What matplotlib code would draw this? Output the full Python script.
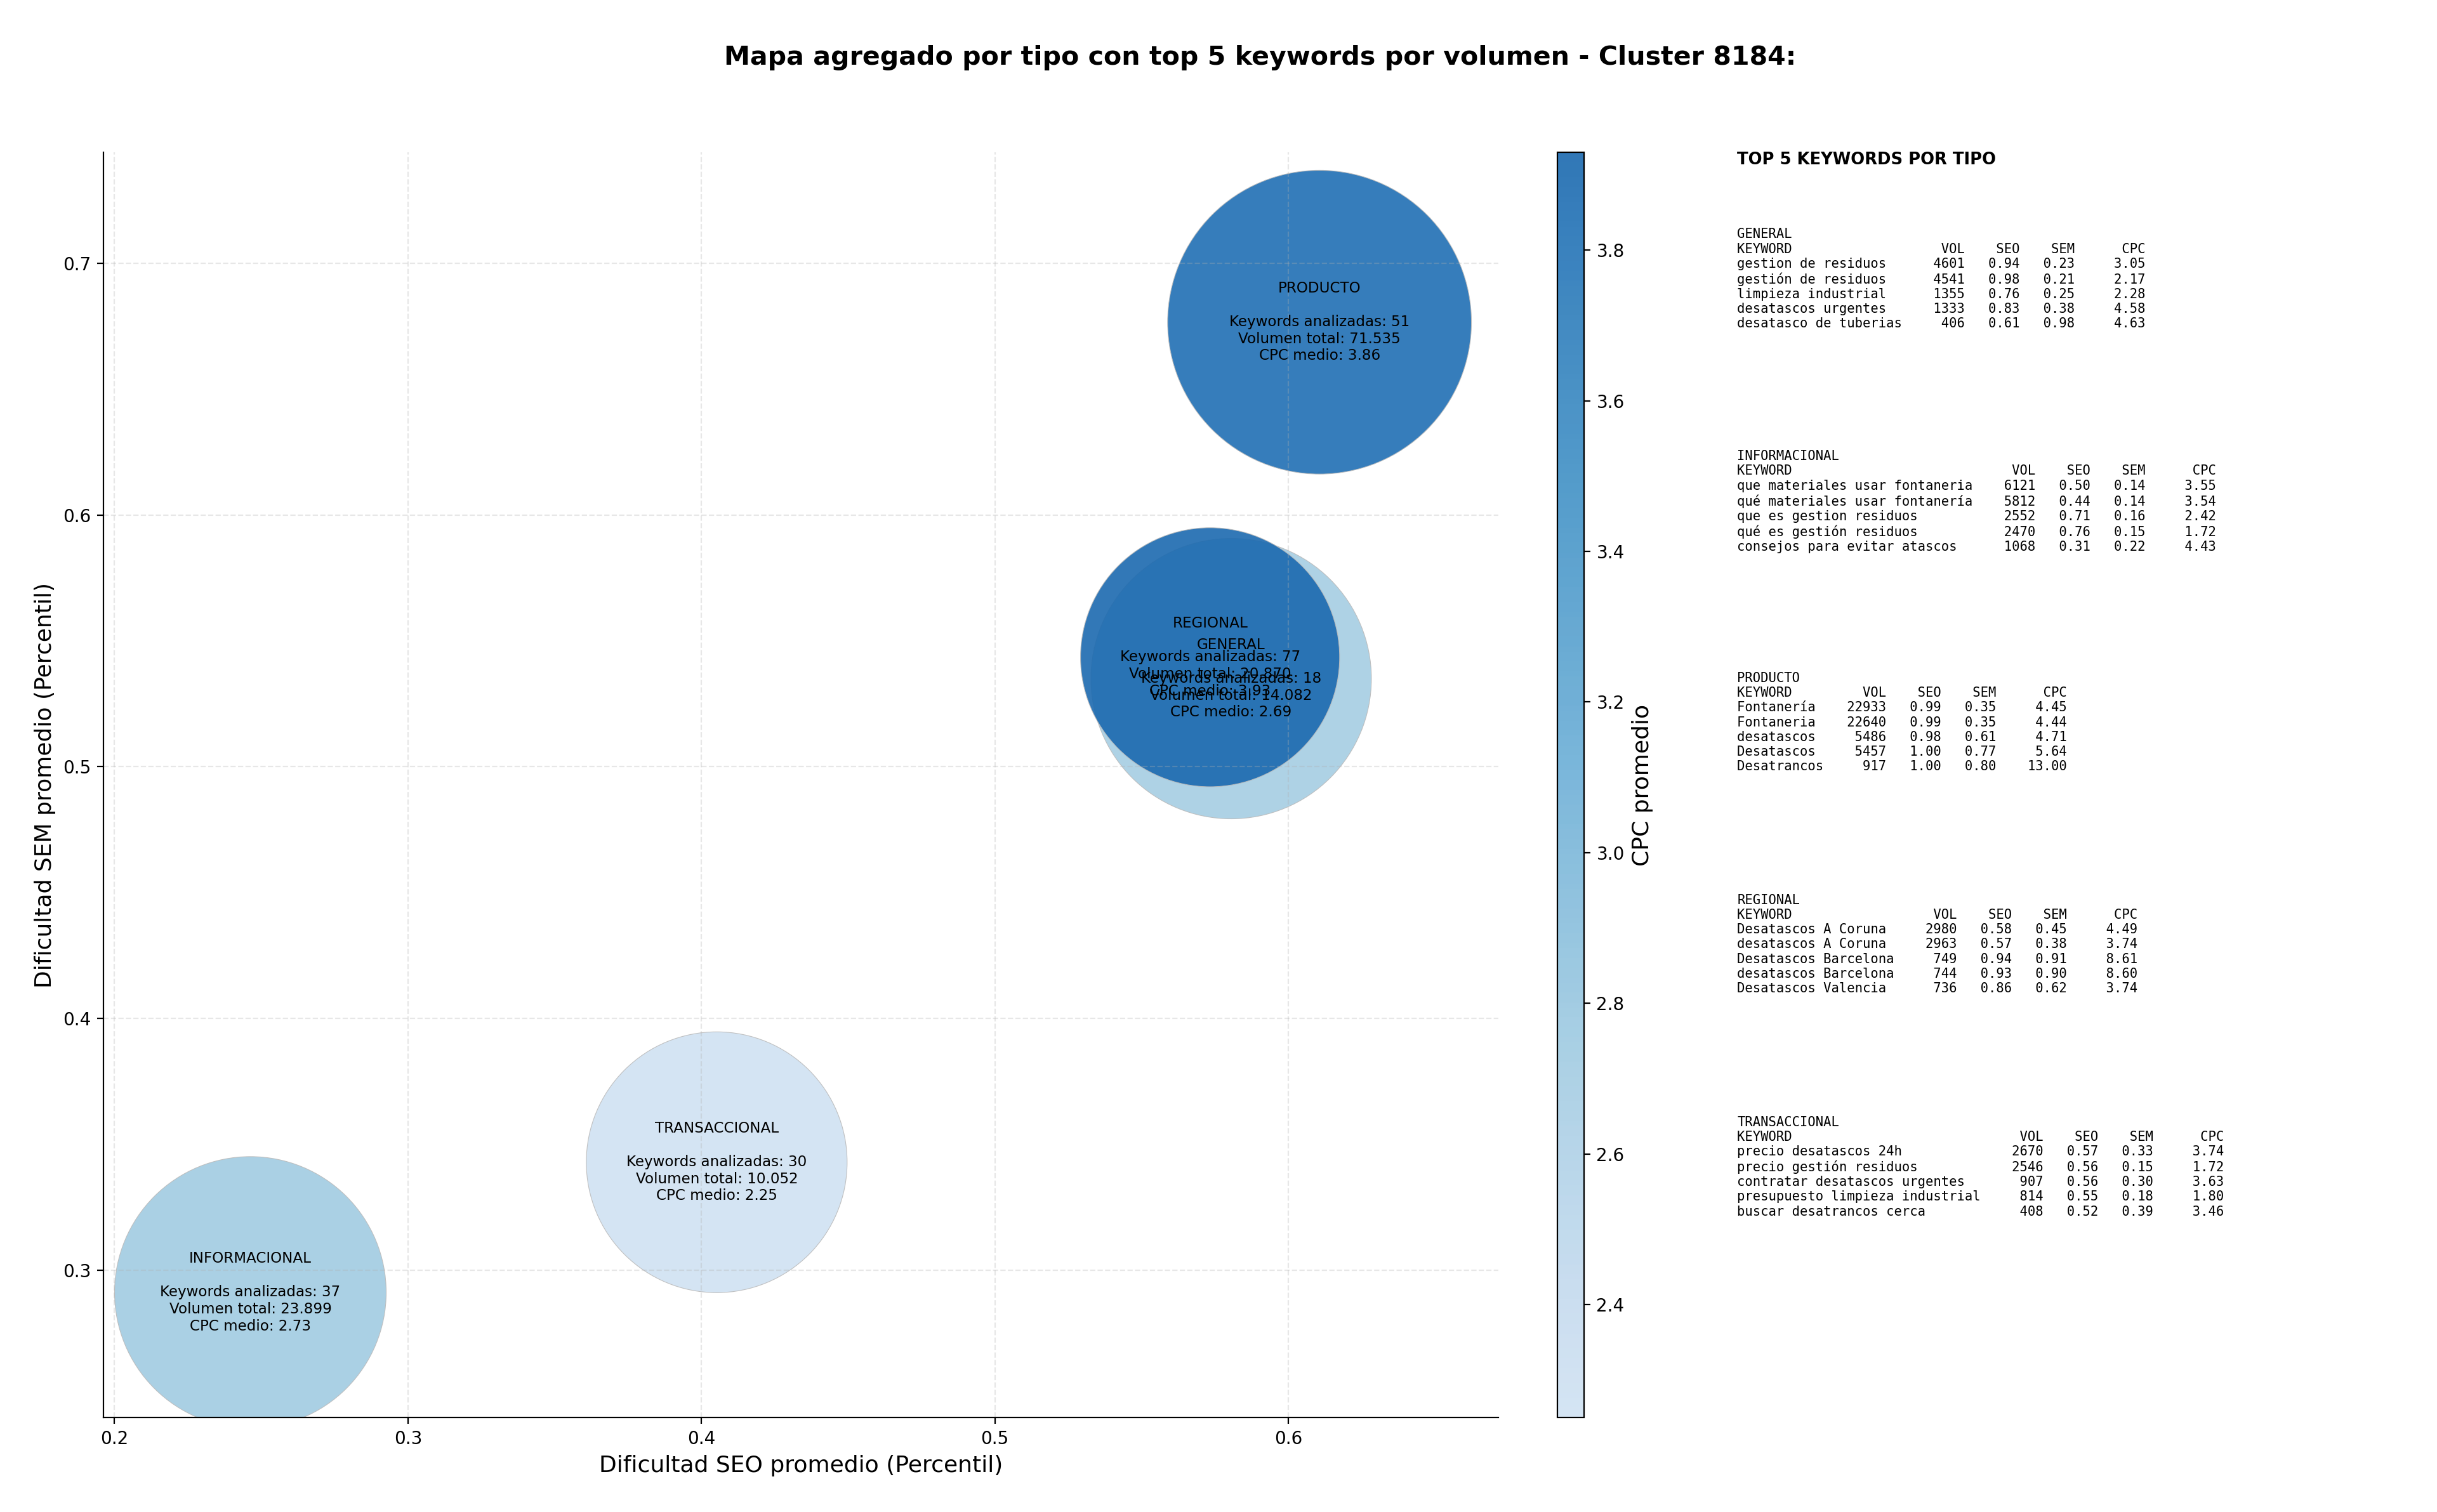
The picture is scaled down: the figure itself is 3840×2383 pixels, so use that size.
import numpy as np
import matplotlib
matplotlib.use('Agg')
import matplotlib.pyplot as plt
from matplotlib.colors import LinearSegmentedColormap, Normalize

# aggregated data per keyword type
tipos = ['GENERAL', 'INFORMACIONAL', 'PRODUCTO', 'REGIONAL', 'TRANSACCIONAL']
seo_medio = [0.5805, 0.2463, 0.6106, 0.5733, 0.4052]
sem_medio = [0.5350, 0.2912, 0.6766, 0.5435, 0.3429]
n_keywords = [18, 37, 51, 77, 30]
volumen_total = [14082, 23899, 71535, 20870, 10052]
cpc_medio = [2.69, 2.73, 3.86, 3.93, 2.25]
bubble_size = [25300, 23740, 29700, 21600, 21890]

# top 5 keywords per type: (keyword, vol, seo, sem, cpc)
top_general = [
    ('gestion de residuos', 4601, 0.94, 0.23, 3.05),
    ('gestión de residuos', 4541, 0.98, 0.21, 2.17),
    ('limpieza industrial', 1355, 0.76, 0.25, 2.28),
    ('desatascos urgentes', 1333, 0.83, 0.38, 4.58),
    ('desatasco de tuberias', 406, 0.61, 0.98, 4.63),
]
top_informacional = [
    ('que materiales usar fontaneria', 6121, 0.50, 0.14, 3.55),
    ('qué materiales usar fontanería', 5812, 0.44, 0.14, 3.54),
    ('que es gestion residuos', 2552, 0.71, 0.16, 2.42),
    ('qué es gestión residuos', 2470, 0.76, 0.15, 1.72),
    ('consejos para evitar atascos', 1068, 0.31, 0.22, 4.43),
]
top_producto = [
    ('Fontanería', 22933, 0.99, 0.35, 4.45),
    ('Fontaneria', 22640, 0.99, 0.35, 4.44),
    ('desatascos', 5486, 0.98, 0.61, 4.71),
    ('Desatascos', 5457, 1.00, 0.77, 5.64),
    ('Desatrancos', 917, 1.00, 0.80, 13.00),
]
top_regional = [
    ('Desatascos A Coruna', 2980, 0.58, 0.45, 4.49),
    ('desatascos A Coruna', 2963, 0.57, 0.38, 3.74),
    ('Desatascos Barcelona', 749, 0.94, 0.91, 8.61),
    ('desatascos Barcelona', 744, 0.93, 0.90, 8.60),
    ('Desatascos Valencia', 736, 0.86, 0.62, 3.74),
]
top_transaccional = [
    ('precio desatascos 24h', 2670, 0.57, 0.33, 3.74),
    ('precio gestión residuos', 2546, 0.56, 0.15, 1.72),
    ('contratar desatascos urgentes', 907, 0.56, 0.30, 3.63),
    ('presupuesto limpieza industrial', 814, 0.55, 0.18, 1.80),
    ('buscar desatrancos cerca', 408, 0.52, 0.39, 3.46),
]
tops = [top_general, top_informacional, top_producto, top_regional, top_transaccional]

cmap = LinearSegmentedColormap.from_list('blues_cut', plt.cm.Blues(np.linspace(0.2, 0.78, 256)))
norm = Normalize(vmin=min(cpc_medio), vmax=max(cpc_medio))

fig = plt.figure(figsize=(19.2, 11.915), facecolor='white')
ax = fig.add_axes([0.0424, 0.0625, 0.5724, 0.8368])
cax = fig.add_axes([0.639, 0.0625, 0.011, 0.8368])

sc = ax.scatter(seo_medio, sem_medio, s=bubble_size, c=cpc_medio, cmap=cmap, norm=norm,
                alpha=0.9, edgecolors='#bbbbbb', linewidths=0.4)

def fmt_vol(v):
    return f'{v:,}'.replace(',', '.')

for t, x, y, n, v, c in zip(tipos, seo_medio, sem_medio, n_keywords, volumen_total, cpc_medio):
    label = f'{t}\n\nKeywords analizadas: {n}\nVolumen total: {fmt_vol(v)}\nCPC medio: {c:.2f}'
    ax.text(x, y, label, ha='center', va='center', fontsize=8.3)

ax.set_xlim(0.1962, 0.6715)
ax.set_ylim(0.2415, 0.7441)
ax.set_xticks([0.2, 0.3, 0.4, 0.5, 0.6])
ax.set_yticks([0.3, 0.4, 0.5, 0.6, 0.7])
ax.tick_params(labelsize=10)
ax.set_xlabel('Dificultad SEO promedio (Percentil)', fontsize=13)
ax.set_ylabel('Dificultad SEM promedio (Percentil)', fontsize=13)
ax.grid(True, linestyle='--', alpha=0.3)
ax.spines['top'].set_visible(False)
ax.spines['right'].set_visible(False)

cb = fig.colorbar(sc, cax=cax)
cb.set_label('CPC promedio', fontsize=13)
cb.ax.tick_params(labelsize=10)

fig.suptitle('Mapa agregado por tipo con top 5 keywords por volumen - Cluster 8184:',
             fontsize=14.8, fontweight='bold', x=0.517, y=0.970)

# keyword tables on the right
fig.text(0.7128, 0.8995, 'TOP 5 KEYWORDS POR TIPO', fontsize=9.3, fontweight='bold', va='top')
for i, (t, rows) in enumerate(zip(tipos, tops)):
    w = max(len(r[0]) for r in rows)
    lines = [t, f"{'KEYWORD':<{w}}  {'VOL':>6}  {'SEO':>5}  {'SEM':>5}  {'CPC':>7}"]
    for kw, vol, seo, sem, cpc in rows:
        lines.append(f'{kw:<{w}}  {vol:>6}  {seo:>5.2f}  {sem:>5.2f}  {cpc:>7.2f}')
    fig.text(0.7128, 0.8492 - 0.1468 * i, '\n'.join(lines), fontsize=7.4,
             family='DejaVu Sans Mono', va='top')

plt.savefig('out.png', dpi=200, facecolor='white')
plt.close()
